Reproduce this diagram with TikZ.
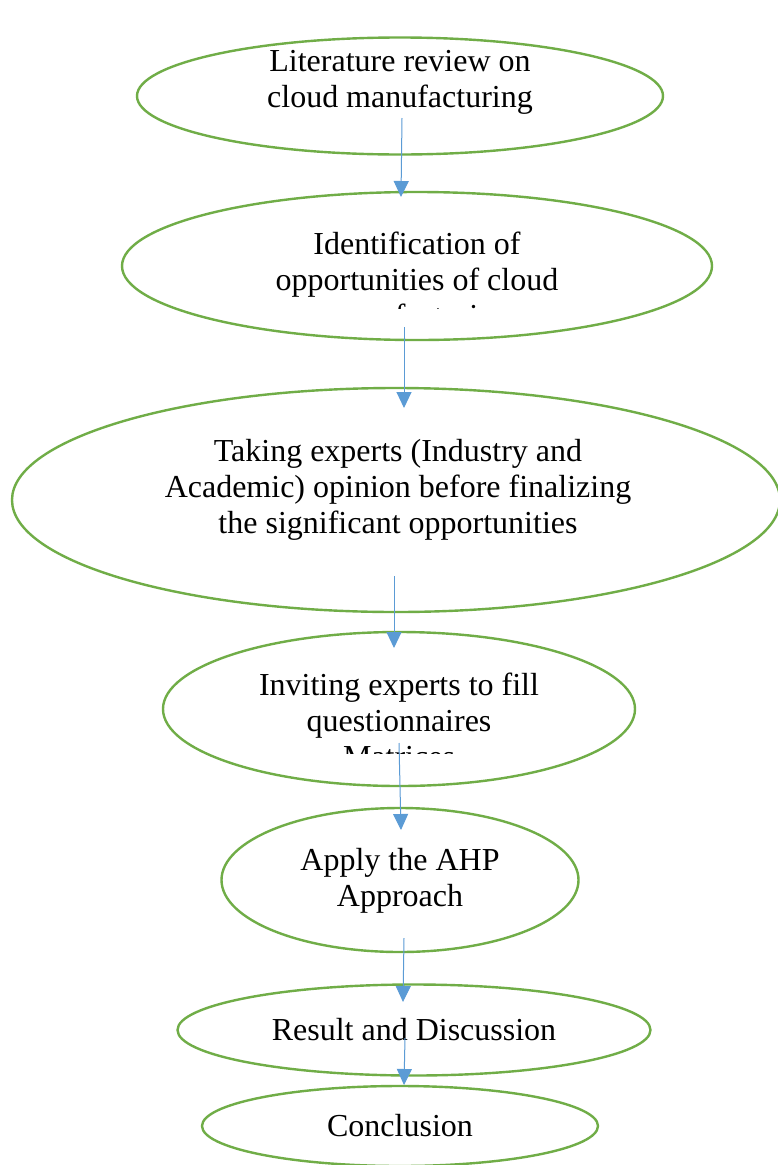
\documentclass[tikz,border=0pt]{standalone}
\usepackage{fontspec}
\setmainfont{Liberation Serif}
\usetikzlibrary{shapes.geometric,arrows.meta}
\definecolor{ovalgreen}{HTML}{70AD47}
\definecolor{arrblue}{HTML}{5B9BD5}

\begin{document}
\begin{tikzpicture}[x=1pt,y=-1pt,
    oval/.style={draw=ovalgreen,line width=2.4pt,ellipse,inner sep=0pt},
    txt/.style={anchor=north,align=center,inner sep=0pt,font=\fontsize{32}{36}\selectfont},
    flow/.style={arrblue,line width=1pt,-{Triangle[width=15pt,length=16pt]}}]
    \useasboundingbox[fill=white] (0,0) rectangle (778,1165);
    % the ovals
    \node[oval,minimum width=526pt,minimum height=117pt] (lit) at (400,96) {};
    \node[oval,minimum width=590pt,minimum height=148pt] (ident) at (417,266) {};
    \node[oval,minimum width=768pt,minimum height=224pt] (expert) at (396,500) {};
    \node[oval,minimum width=472pt,minimum height=154pt] (invite) at (399,709) {};
    \node[oval,minimum width=357pt,minimum height=144pt] (ahp) at (400,880) {};
    \node[oval,minimum width=473pt,minimum height=91pt] (result) at (414,1030) {};
    \node[oval,minimum width=396pt,minimum height=80pt] (concl) at (400,1126) {};
    % the texts
    \node[txt] (littxt) at (400,50) {Literature review on\\cloud manufacturing};
    \begin{scope}
        \clip (0,0) rectangle (778,308);
        \node[txt] (identtxt) at (417,232) {Identification of\\opportunities of cloud\\manufacturing};
    \end{scope}
    \node[txt] (experttxt) at (398,439) {Taking experts (Industry and\\Academic) opinion before finalizing\\the significant opportunities};
    \begin{scope}
        \clip (0,0) rectangle (778,753);
        \node[txt] (invitetxt) at (399,673) {Inviting experts to fill\\questionnaires\\Matrices};
    \end{scope}
    \node[txt] (ahptxt) at (400,848) {Apply the AHP\\Approach};
    \node[txt] (resulttxt) at (414,1018) {Result and Discussion};
    \node[txt] (concltxt) at (400,1114) {Conclusion};
    % the arrows
    \coordinate (s1) at (402,118);  \coordinate (e1) at (401,197);
    \coordinate (s2) at (404,327);  \coordinate (e2) at (404,408);
    \coordinate (s3) at (394,576);  \coordinate (e3) at (394,648);
    \coordinate (s4) at (399,743);  \coordinate (e4) at (401,830);
    \coordinate (s5) at (404,938);  \coordinate (e5) at (403,1002);
    \coordinate (s6) at (405,1038); \coordinate (e6) at (404,1085);
    \foreach \i in {1,...,6}
        \draw[flow] (s\i) -- (e\i);
\end{tikzpicture}
\end{document}
